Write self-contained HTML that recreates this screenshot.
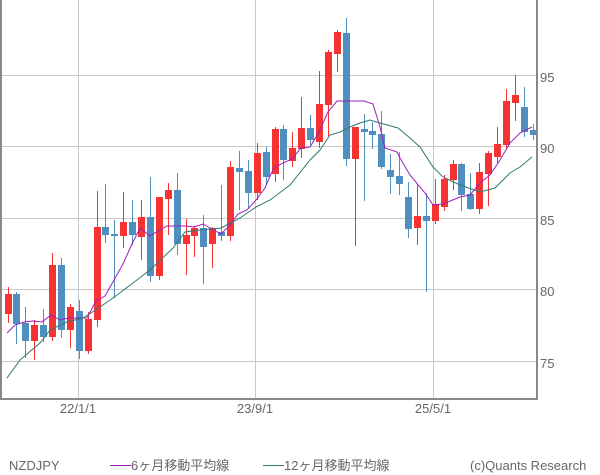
<!DOCTYPE html>
<html><head><meta charset="utf-8"><style>
body{margin:0;background:#fff;}
svg{display:block;font-family:"Liberation Sans","Noto Sans CJK JP",sans-serif;}
</style></head><body>
<svg width="600" height="475" viewBox="0 0 600 475">
<rect width="600" height="475" fill="#fff"/>
<g stroke="#c8c8c8" stroke-width="1">
<line x1="1" y1="75.5" x2="537" y2="75.5"/><line x1="1" y1="146.5" x2="537" y2="146.5"/>
<line x1="1" y1="218.5" x2="537" y2="218.5"/><line x1="1" y1="289.5" x2="537" y2="289.5"/>
<line x1="1" y1="361.5" x2="537" y2="361.5"/>
<line x1="78.5" y1="0" x2="78.5" y2="399"/><line x1="255.5" y1="0" x2="255.5" y2="399"/><line x1="433.5" y1="0" x2="433.5" y2="399"/>
</g>
<g id="c"></g>
<polyline fill="none" stroke="#9b1fc0" stroke-width="1" points="7,333 15,325 24,322 33,321 42,322 51,315 60,320 69,318 78,318 87,318 96,301 105,296 114,280 123,264 132,244 140,228 150,236 158,231 167,226 176,226 185,226 194,227 203,224 212,229 221,234 229,226 238,214 247,210 256,200 265,188 270,176 274,168 283,163 292,159 301,148 310,147 319,132 328,112 337,101 346,101 355,101 364,101 373,104 380,127 385,148 397,152 400,158 410,175 425,193 433,205 443,204 460,197 470,195 480,183 490,175 500,160 510,143 520,133 532,127"/>
<polyline fill="none" stroke="#2e7a70" stroke-width="1" points="7,378 20,360 40,343 50,330 67,322 83,318 100,307 113,298 133,283 150,270 173,248 185,232 200,230 221,228 240,218 256,207 270,200 290,185 310,160 320,150 330,135 340,132 350,127 360,123 370,120 380,123 398,128 410,138 420,147 433,167 443,177 460,185 480,192 495,188 510,173 520,167 532,157"/>
<g stroke="#888" stroke-width="2" fill="none"><polyline points="1,0 1,399 537,399 537,0"/></g>
<g fill="#666" font-size="13">
<text x="540" y="82">95</text><text x="540" y="153">90</text><text x="540" y="225">85</text>
<text x="540" y="296">80</text><text x="540" y="368">75</text>
<text x="78" y="413" text-anchor="middle">22/1/1</text><text x="255" y="413" text-anchor="middle">23/9/1</text><text x="433" y="413" text-anchor="middle">25/5/1</text>
<text x="9" y="470">NZDJPY</text>
<text x="131" y="470">6ヶ月移動平均線</text>
<text x="284" y="470">12ヶ月移動平均線</text>
<text x="470" y="470">(c)Quants Research</text>
</g>
<line x1="110" y1="465.5" x2="131" y2="465.5" stroke="#9b1fc0"/>
<line x1="263" y1="465.5" x2="284" y2="465.5" stroke="#2e7a70"/>
</svg>
<script>
var d=[
[294,314,287,323,1],[294,324,292,344,0],[323,341,307,358,0],[325,341,320,360,1],[325,337,309,342,0],
[265,337,253,341,1],[265,330,258,338,0],[307,330,304,348,1],[311,351,300,359,0],[319,351,312,354,1],
[227,320,191,327,1],[227,235,184,243,0],[234,236,220,298,0],[222,236,192,248,1],[222,235,200,245,0],
[217,237,200,260,1],[217,276,177,282,0],[197,276,197,280,1],[190,199,183,235,1],[190,244,173,255,0],
[235,244,219,275,1],[228,236,226,257,1],[228,247,215,284,0],[228,244,227,268,1],[232,236,185,241,0],
[167,236,161,241,1],[168,172,151,210,0],[171,193,160,208,0],[153,193,143,200,1],[152,177,147,185,0],
[129,174,127,182,1],[129,160,125,180,0],[148,161,132,167,1],[128,149,97,158,1],[128,140,115,145,0],
[104,142,71,148,1],[52,105,50,136,1],[32,54,30,72,1],[33,159,18,166,0],[127,159,127,246,1],
[129,132,114,201,0],[131,135,122,149,0],[134,167,111,169,0],[170,177,154,194,0],[176,184,152,195,0],
[197,229,182,238,0],[216,228,185,245,1],[216,221,193,292,0],[204,221,179,224,1],[179,207,175,211,1],
[164,180,160,190,1],[164,195,163,211,0],[194,209,173,210,0],[172,209,163,214,1],[153,174,151,206,1],
[144,157,127,163,1],[101,145,89,149,1],[95,103,75,121,1],[107,132,87,137,0],[130,135,124,140,0]];
var g=document.getElementById('c'),s='';
d.forEach(function(c,i){var x=Math.round(7.5+i*8.9),col=c[4]?'#f53333':'#4f8fc0';
s+='<line x1="'+(x+0.5)+'" y1="'+c[2]+'" x2="'+(x+0.5)+'" y2="'+c[3]+'" stroke="'+col+'"/>';
s+='<rect x="'+(x-3)+'" y="'+c[0]+'" width="7" height="'+Math.max(2,c[1]-c[0])+'" fill="'+col+'"/>';});
g.innerHTML=s;
</script>
</body></html>
